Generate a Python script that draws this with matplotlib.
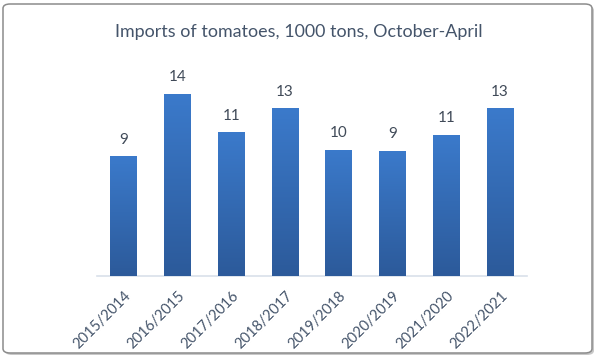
import numpy as np
import matplotlib
matplotlib.use("Agg")
import matplotlib.pyplot as plt
from matplotlib.patches import FancyBboxPatch

plt.rcParams["font.family"] = ["Lato", "DejaVu Sans"]

seasons = ["2015/2014", "2016/2015", "2017/2016", "2018/2017",
           "2019/2018", "2020/2019", "2021/2020", "2022/2021"]
imports = [9.0, 13.7, 10.8, 12.6, 9.5, 9.4, 10.6, 12.6]
value_labels = ["9", "14", "11", "13", "10", "9", "11", "13"]

text_col = "#44546a"
top_col = np.array([0x3b, 0x7a, 0xcb]) / 255
bot_col = np.array([0x2c, 0x5a, 0x9a]) / 255

fig = plt.figure(figsize=(6, 3.64), dpi=100)
W, H = 600, 364

# rounded frame with a soft shadow
shadow = FancyBboxPatch((5 / W, 9 / H), 589 / W, 349 / H,
                        boxstyle="round,pad=0,rounding_size=0.012",
                        transform=fig.transFigure, fc="#c8c8c8", ec="none", zorder=0)
frame = FancyBboxPatch((3 / W, 11 / H), 589 / W, 349 / H,
                       boxstyle="round,pad=0,rounding_size=0.012",
                       transform=fig.transFigure, fc="white", ec="#8c8c8c", lw=1.1, zorder=1)
fig.patches.extend([shadow, frame])

ax = fig.add_axes([97 / W, 88 / H, 430 / W, 199.5 / H])
ax.set_zorder(2)
ax.patch.set_visible(False)

x = np.arange(len(seasons))
bars = ax.bar(x, imports, width=0.5, color=bot_col, zorder=2)

# vertical gradient inside each bar
grad = np.linspace(0, 1, 256)[:, None, None]
img = bot_col * (1 - grad) + top_col * grad
for b in bars:
    x0, w, h = b.get_x(), b.get_width(), b.get_height()
    im = ax.imshow(img, extent=[x0, x0 + w, 0, h], origin="lower",
                   aspect="auto", zorder=3, interpolation="bilinear")
    im.set_clip_path(b)

for b, lab in zip(bars, value_labels):
    ax.annotate(lab, (b.get_x() + b.get_width() / 2, b.get_height()),
                xytext=(0, 7), textcoords="offset points",
                ha="center", va="bottom", fontsize=11, color="#404a58")

ax.set_xlim(-0.5, len(seasons) - 0.5)
ax.set_ylim(0, 15)
ax.set_xticks(x)
ax.set_xticklabels(seasons, rotation=45, ha="right", rotation_mode="anchor",
                   fontsize=10.5, color=text_col)
ax.tick_params(axis="x", length=0, pad=9)
ax.set_yticks([])
for s in ["top", "right", "left"]:
    ax.spines[s].set_visible(False)
ax.spines["bottom"].set_color("#d9e0ea")
ax.spines["bottom"].set_linewidth(1.2)

fig.text(0.498, 0.912, "Imports of tomatoes, 1000 tons, October-April",
         ha="center", va="center", fontsize=12.9, color=text_col, zorder=3)

fig.savefig("out.png", dpi=100)
